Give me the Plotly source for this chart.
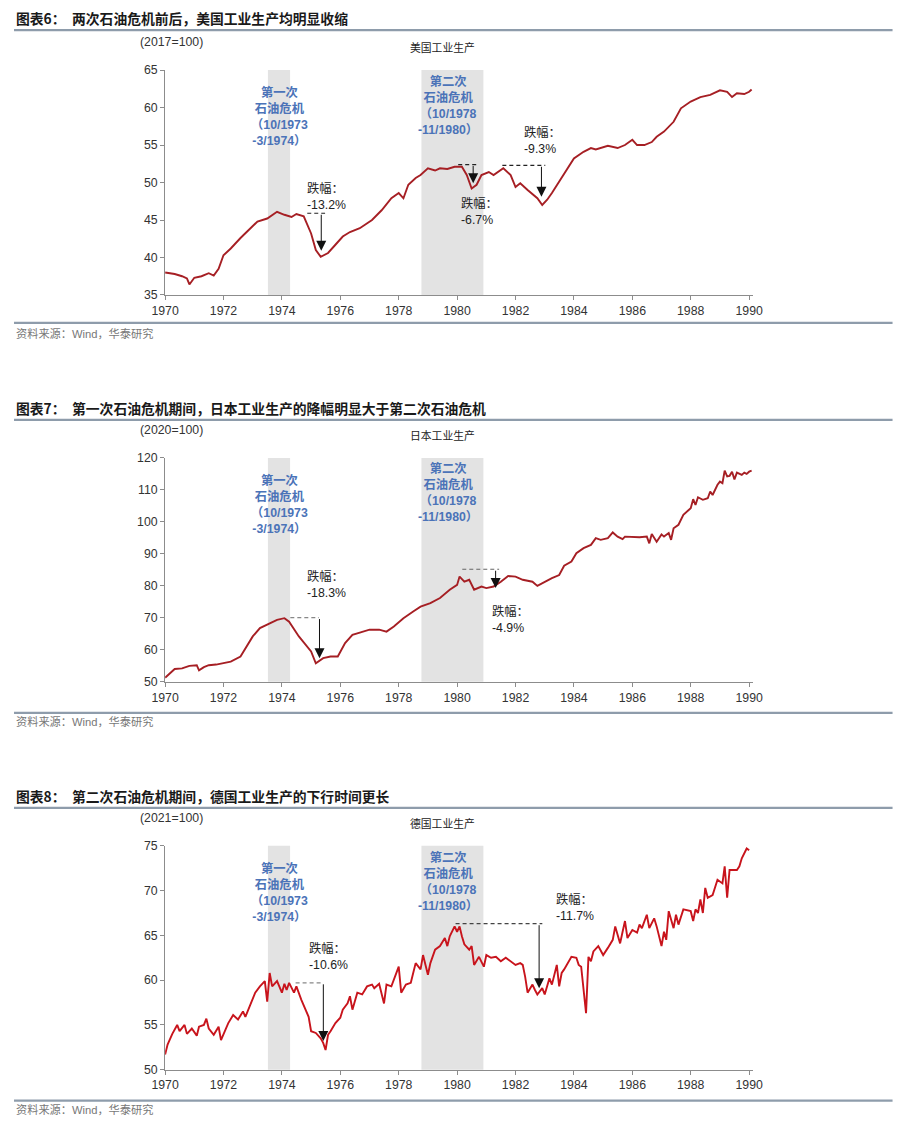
import datetime
import plotly.graph_objects as go

W, H = 905, 1133

# ---------------- data ----------------
us_dates = ["1970-01", "1970-05", "1970-08", "1970-10", "1970-11", "1971-01", "1971-04", "1971-07",
            "1971-09", "1971-11", "1972-01", "1972-04", "1972-08", "1972-12", "1973-03", "1973-07",
            "1973-11", "1974-02", "1974-05", "1974-07", "1974-10", "1975-01", "1975-03", "1975-05",
            "1975-08", "1975-11", "1976-02", "1976-05", "1976-09", "1977-02", "1977-06", "1977-10",
            "1978-01", "1978-03", "1978-05", "1978-08", "1978-10", "1979-01", "1979-04", "1979-06",
            "1979-09", "1979-12", "1980-03", "1980-05", "1980-07", "1980-09", "1980-11", "1981-02",
            "1981-04", "1981-08", "1981-11", "1982-01", "1982-03", "1982-06", "1982-10", "1982-12",
            "1983-02", "1983-04", "1983-08", "1983-10", "1984-01", "1984-05", "1984-08", "1984-10",
            "1985-03", "1985-07", "1985-10", "1986-01", "1986-03", "1986-06", "1986-09", "1986-11",
            "1987-02", "1987-06", "1987-09", "1988-01", "1988-05", "1988-09", "1989-01", "1989-04",
            "1989-06", "1989-08", "1989-11", "1990-01", "1990-02"]
us_values = [38.0, 37.8, 37.5, 37.2, 36.4, 37.3, 37.5, 37.9,
             37.6, 38.5, 40.3, 41.2, 42.6, 43.9, 44.8, 45.2,
             46.1, 45.7, 45.4, 45.8, 45.5, 43.2, 41.0, 40.1,
             40.6, 41.7, 42.8, 43.4, 43.9, 45.0, 46.3, 47.9,
             48.6, 47.9, 49.7, 50.6, 51.0, 51.9, 51.6, 51.9,
             51.8, 52.1, 52.1, 51.0, 49.2, 49.7, 51.0, 51.4,
             51.0, 51.9, 51.0, 49.4, 49.9, 49.0, 47.9, 47.0,
             47.7, 48.6, 50.6, 51.7, 53.2, 54.1, 54.6, 54.4,
             54.9, 54.6, 55.0, 55.7, 55.0, 55.0, 55.4, 56.1,
             56.8, 58.1, 59.9, 60.8, 61.4, 61.7, 62.3, 62.1,
             61.4, 61.9, 61.8, 62.1, 62.4]

jp_dates = ["1970-01", "1970-03", "1970-05", "1970-08", "1970-11", "1971-02", "1971-03", "1971-05",
            "1971-07", "1971-10", "1972-01", "1972-04", "1972-08", "1972-10", "1973-01", "1973-04",
            "1973-08", "1973-11", "1974-02", "1974-04", "1974-08", "1975-01", "1975-03", "1975-06",
            "1975-09", "1975-12", "1976-03", "1976-06", "1976-09", "1977-01", "1977-05", "1977-08",
            "1977-11", "1978-03", "1978-07", "1978-10", "1979-02", "1979-06", "1979-10", "1980-01",
            "1980-02", "1980-04", "1980-06", "1980-08", "1980-11", "1981-01", "1981-04", "1981-07",
            "1981-10", "1982-01", "1982-04", "1982-08", "1982-10", "1983-01", "1983-04", "1983-07",
            "1983-09", "1983-12", "1984-02", "1984-05", "1984-08", "1984-10", "1984-12", "1985-03",
            "1985-05", "1985-07", "1985-09", "1985-10", "1986-04", "1986-07", "1986-08", "1986-09",
            "1986-11", "1987-01", "1987-02", "1987-04", "1987-05", "1987-06", "1987-08", "1987-10",
            "1988-01", "1988-02", "1988-03", "1988-04", "1988-06", "1988-08", "1988-09", "1988-10",
            "1988-12", "1989-01", "1989-02", "1989-03", "1989-04", "1989-05", "1989-06", "1989-07",
            "1989-08", "1989-10", "1989-11", "1989-12", "1990-01", "1990-02"]
jp_values = [51.3, 52.5, 54.0, 54.2, 55.0, 55.2, 53.6, 54.6,
             55.2, 55.4, 55.8, 56.3, 57.9, 60.5, 64.2, 66.8,
             68.3, 69.4, 69.9, 68.8, 64.2, 59.5, 55.8, 57.4,
             57.9, 57.9, 62.1, 64.7, 65.4, 66.3, 66.3, 65.7,
             67.3, 69.9, 72.0, 73.5, 74.6, 76.2, 78.8, 80.3,
             82.9, 81.3, 81.9, 78.8, 79.8, 79.3, 79.8, 81.3,
             83.1, 82.9, 81.9, 81.3, 80.0, 81.3, 82.4, 83.4,
             86.3, 87.6, 90.2, 91.8, 92.8, 94.9, 94.4, 94.9,
             96.7, 95.4, 94.6, 95.4, 95.2, 95.4, 93.3, 96.2,
             93.8, 96.1, 95.4, 96.5, 94.4, 98.0, 99.1, 102.2,
             104.3, 107.1, 105.3, 107.7, 106.9, 107.4, 109.5, 108.4,
             111.6, 112.6, 112.1, 116.0, 114.2, 114.4, 115.7, 113.3,
             115.4, 114.7, 115.4, 115.0, 115.7, 116.0]

de_dates = ["1970-01", "1970-02", "1970-04", "1970-06", "1970-07", "1970-09", "1970-10", "1970-12",
            "1971-02", "1971-03", "1971-05", "1971-06", "1971-07", "1971-09", "1971-11", "1971-12",
            "1972-03", "1972-05", "1972-07", "1972-09", "1972-10", "1972-12", "1973-02", "1973-04",
            "1973-06", "1973-07", "1973-08", "1973-09", "1973-11", "1974-01", "1974-02", "1974-03",
            "1974-04", "1974-06", "1974-07", "1974-09", "1974-10", "1974-12", "1975-01", "1975-03",
            "1975-05", "1975-06", "1975-07", "1975-08", "1975-09", "1975-11", "1976-01", "1976-02",
            "1976-04", "1976-05", "1976-06", "1976-08", "1976-10", "1976-12", "1977-02", "1977-03",
            "1977-05", "1977-07", "1977-08", "1977-10", "1978-01", "1978-02", "1978-04", "1978-06",
            "1978-07", "1978-08", "1978-10", "1978-11", "1979-01", "1979-02", "1979-04", "1979-06",
            "1979-08", "1979-09", "1979-10", "1979-12", "1980-01", "1980-02", "1980-03", "1980-04",
            "1980-06", "1980-07", "1980-08", "1980-10", "1980-12", "1981-01", "1981-03", "1981-05",
            "1981-07", "1981-09", "1982-01", "1982-03", "1982-04", "1982-05", "1982-06", "1982-08",
            "1982-09", "1982-10", "1982-12", "1983-01", "1983-03", "1983-04", "1983-06", "1983-07",
            "1983-08", "1983-09", "1983-12", "1984-02", "1984-03", "1984-04", "1984-06", "1984-07",
            "1984-08", "1984-09", "1984-11", "1985-01", "1985-03", "1985-05", "1985-06", "1985-08",
            "1985-09", "1985-10", "1985-11", "1986-01", "1986-03", "1986-04", "1986-05", "1986-07",
            "1986-08", "1986-10", "1986-11", "1987-01", "1987-02", "1987-03", "1987-04", "1987-06",
            "1987-07", "1987-08", "1987-10", "1988-01", "1988-02", "1988-03", "1988-04", "1988-05",
            "1988-06", "1988-07", "1988-08", "1988-10", "1988-12", "1989-02", "1989-03", "1989-04",
            "1989-05", "1989-08", "1989-09", "1989-10", "1989-12", "1990-01"]
de_values = [51.7, 52.8, 54.0, 55.0, 54.3, 55.0, 54.0, 54.6,
             53.8, 54.8, 55.0, 55.7, 54.6, 53.9, 54.8, 53.3,
             55.2, 56.1, 55.6, 56.5, 55.9, 57.3, 58.6, 59.3,
             59.9, 57.6, 60.8, 59.3, 59.9, 58.6, 59.6, 58.9,
             59.7, 58.6, 59.3, 57.8, 57.1, 55.9, 54.3, 54.1,
             53.5, 53.0, 52.2, 53.9, 54.3, 55.2, 55.8, 56.7,
             57.4, 58.2, 56.7, 58.6, 58.4, 59.3, 59.5, 59.1,
             59.6, 57.4, 59.5, 59.3, 61.5, 58.6, 59.5, 59.7,
             60.8, 61.9, 61.2, 62.8, 60.6, 61.9, 63.4, 63.8,
             64.7, 63.8, 64.9, 66.0, 65.4, 66.0, 64.9, 64.0,
             63.4, 63.8, 61.7, 62.6, 61.5, 62.8, 62.5, 62.6,
             62.1, 62.5, 61.7, 61.9, 61.7, 60.4, 58.6, 59.5,
             58.9, 58.4, 59.1, 58.4, 60.2, 59.5, 61.7, 59.3,
             60.8, 61.2, 62.6, 62.5, 61.7, 61.5, 56.3, 62.6,
             62.1, 63.2, 63.8, 62.8, 63.6, 64.5, 66.0, 64.1,
             65.4, 66.6, 64.7, 65.6, 65.3, 66.2, 65.8, 67.3,
             65.8, 66.9, 66.0, 63.8, 65.4, 64.5, 67.7, 65.8,
             67.3, 66.2, 67.9, 67.7, 66.6, 67.9, 67.5, 69.0,
             67.5, 70.3, 69.2, 69.5, 71.2, 70.8, 72.7, 69.2,
             72.3, 72.3, 72.7, 73.6, 74.7, 74.5]

# oil crisis shading (start, end)
crisis_periods = [("1973-07-10", "1974-04-13"), ("1978-10-12", "1980-11-25")]
crisis_labels = ["第一次<br>石油危机<br>（10/1973<br>-3/1974）",
                 "第二次<br>石油危机<br>（10/1978<br>-11/1980）"]

# drawdown markers: (dash start yr, dash end yr, arrow yr, peak level, trough level, label)
us_drops = [(1974.87, 1975.48, 1975.35, 45.9, 40.9, "-13.2%"),
            (1980.04, 1980.69, 1980.55, 52.4, 49.9, "-6.7%"),
            (1981.55, 1983.02, 1982.89, 52.3, 48.1, "-9.3%")]
jp_drops = [(1974.29, 1975.27, 1975.29, 70.1, 57.4, "-18.3%"),
            (1980.18, 1981.44, 1981.32, 85.2, 79.3, "-4.9%")]
de_drops = [(1974.47, 1975.38, 1975.42, 59.7, 53.2, "-10.6%"),
            (1979.95, 1982.92, 1982.81, 66.3, 59.1, "-11.7%")]

titles = ["两次石油危机前后，美国工业生产均明显收缩",
          "第一次石油危机期间，日本工业生产的降幅明显大于第二次石油危机",
          "第二次石油危机期间，德国工业生产的下行时间更长"]
fig_labels = ["图表6：", "图表7：", "图表8："]
chart_names = ["美国工业生产", "日本工业生产", "德国工业生产"]
units = ["(2017=100)", "(2020=100)", "(2021=100)"]
source_text = "资料来源：Wind，华泰研究"

# ---------------- helpers ----------------
# the photographed page is slightly shrunk and padded; map reference pixels to paper
SX, PX = 0.974, 12.3
SY, PY = 0.988, 7.0


def fx(p):
    return (p / SX - PX) / W


def fy(p):
    return 1 - (p / SY - PY) / H


def ydate(d):
    y = int(d)
    start = datetime.date(y, 1, 1)
    days = (datetime.date(y + 1, 1, 1) - start).days
    return (start + datetime.timedelta(days=(d - y) * days)).isoformat()


FONT = "Liberation Sans, Arial, Noto Sans CJK SC, sans-serif"
CJK = "Noto Sans CJK SC, sans-serif"
BLUE = "#4b73b8"
AXIS = "#8c8c8c"
TF = 12.3  # tick / label font size

panels = [
    dict(dates=us_dates, values=us_values, color="#a61f24", yrange=[35, 65], dtick=5,
         top=70, bottom=295, title_y=18, sep_y=30, unit_y=42, name_y=47, src_line=323, src_y=334,
         drops=us_drops, dash_colors=["#222", "#222", "#222"],
         band_text_y=[116.5, 105], drop_text=[(303, 196), (456.5, 211.5), (519.5, 140.5)]),
    dict(dates=jp_dates, values=jp_values, color="#a61f24", yrange=[50, 120], dtick=10,
         top=458, bottom=682, title_y=408, sep_y=420, unit_y=430, name_y=435, src_line=713, src_y=722,
         drops=jp_drops, dash_colors=["#888", "#666"],
         band_text_y=[504.5, 493], drop_text=[(303, 585), (488, 620)]),
    dict(dates=de_dates, values=de_values, color="#c8141c", yrange=[50, 75], dtick=5,
         top=846, bottom=1070, title_y=796, sep_y=808, unit_y=818, name_y=823, src_line=1101, src_y=1110,
         drops=de_drops, dash_colors=["#888", "#444"],
         band_text_y=[892.5, 881.5], drop_text=[(305, 957), (551.5, 907.5)]),
]

fig = go.Figure()
shapes = []
annotations = []
layout = {}

x_left, x_right = 163, 751

for i, p in enumerate(panels):
    sfx = "" if i == 0 else str(i + 1)
    xr, yr_ = "x" + sfx, "y" + sfx
    fig.add_trace(go.Scatter(x=p["dates"], y=p["values"], mode="lines",
                             line=dict(color=p["color"], width=1.9),
                             xaxis=xr, yaxis=yr_, showlegend=False, hoverinfo="skip"))
    layout["xaxis" + sfx] = dict(
        domain=[fx(x_left), fx(x_right)], anchor=yr_, type="date",
        range=["1970-01-01", "1990-02-24"], tick0="1970-01-01", dtick="M24", tickformat="%Y",
        ticks="outside", ticklen=4, tickcolor=AXIS, showline=True, linecolor=AXIS, linewidth=1,
        showgrid=False, zeroline=False, tickfont=dict(size=TF, color="#333", family=FONT))
    layout["yaxis" + sfx] = dict(
        domain=[fy(p["bottom"]), fy(p["top"])], anchor=xr, range=p["yrange"], dtick=p["dtick"],
        ticks="outside", ticklen=4, tickcolor=AXIS, showline=True, linecolor=AXIS, linewidth=1,
        showgrid=False, zeroline=False, tickfont=dict(size=TF, color="#333", family=FONT))

    # shaded crisis periods
    for (s, e) in crisis_periods:
        shapes.append(dict(type="rect", xref=xr, yref=yr_ + " domain", x0=s, x1=e, y0=0, y1=1,
                           fillcolor="#e3e3e3", line=dict(width=0), layer="below"))
    # crisis labels
    for k, lab in enumerate(crisis_labels):
        cx = 277 if k == 0 else 446
        annotations.append(dict(xref="paper", yref="paper", x=fx(cx), y=fy(p["band_text_y"][k]),
                                text="<b>" + lab + "</b>", showarrow=False, align="center",
                                xanchor="center", yanchor="middle",
                                font=dict(size=TF, color=BLUE, family=FONT)))
    # drawdown markers
    for k, (d0, d1, da, top, bot, lab) in enumerate(p["drops"]):
        shapes.append(dict(type="line", xref=xr, yref=yr_, x0=ydate(d0), x1=ydate(d1), y0=top, y1=top,
                           line=dict(color=p["dash_colors"][k], width=1.2, dash="4px,3px")))
        annotations.append(dict(xref=xr, yref=yr_, axref=xr, ayref=yr_,
                                x=ydate(da), y=bot, ax=ydate(da), ay=top, text="",
                                showarrow=True, arrowhead=2, arrowsize=2, arrowwidth=1,
                                arrowcolor="#111"))
        tx, ty = p["drop_text"][k]
        annotations.append(dict(xref="paper", yref="paper", x=fx(tx), y=fy(ty),
                                text="跌幅：<br>" + lab, showarrow=False, align="left",
                                xanchor="left", yanchor="middle",
                                font=dict(size=TF, color="#222", family=FONT)))

    # header / footer texts
    annotations.append(dict(xref="paper", yref="paper", x=fx(12), y=fy(p["title_y"]),
                            text="<b>" + fig_labels[i] + "</b>", showarrow=False,
                            xanchor="left", yanchor="middle",
                            font=dict(size=13.8, color="#1a1a1a", family=CJK)))
    annotations.append(dict(xref="paper", yref="paper", x=fx(68), y=fy(p["title_y"]),
                            text="<b>" + titles[i] + "</b>", showarrow=False,
                            xanchor="left", yanchor="middle",
                            font=dict(size=13.8, color="#1a1a1a", family=CJK)))
    annotations.append(dict(xref="paper", yref="paper", x=fx(169), y=fy(p["unit_y"]),
                            text=units[i], showarrow=False, xanchor="center", yanchor="middle",
                            font=dict(size=TF, color="#333", family=FONT)))
    annotations.append(dict(xref="paper", yref="paper", x=fx(440), y=fy(p["name_y"]),
                            text=chart_names[i], showarrow=False, xanchor="center", yanchor="middle",
                            font=dict(size=10.8, color="#222", family=CJK)))
    annotations.append(dict(xref="paper", yref="paper", x=fx(12), y=fy(p["src_y"]),
                            text=source_text, showarrow=False, xanchor="left", yanchor="middle",
                            font=dict(size=11.2, color="#777", family=FONT)))
    for yy in (p["sep_y"], p["src_line"]):
        shapes.append(dict(type="line", xref="paper", yref="paper", x0=fx(12), x1=fx(890),
                           y0=fy(yy), y1=fy(yy), line=dict(color="#8e9cab", width=2.2)))

fig.update_layout(width=W, height=H, margin=dict(l=0, r=0, t=0, b=0),
                  paper_bgcolor="white", plot_bgcolor="white",
                  font=dict(family=FONT, size=12, color="#333"),
                  shapes=shapes, annotations=annotations, **layout)

fig.write_html("out.html", config={"displayModeBar": False},
               post_script="document.body.style.margin='0';document.body.style.padding='0';"
                           "document.body.style.overflow='hidden';")
